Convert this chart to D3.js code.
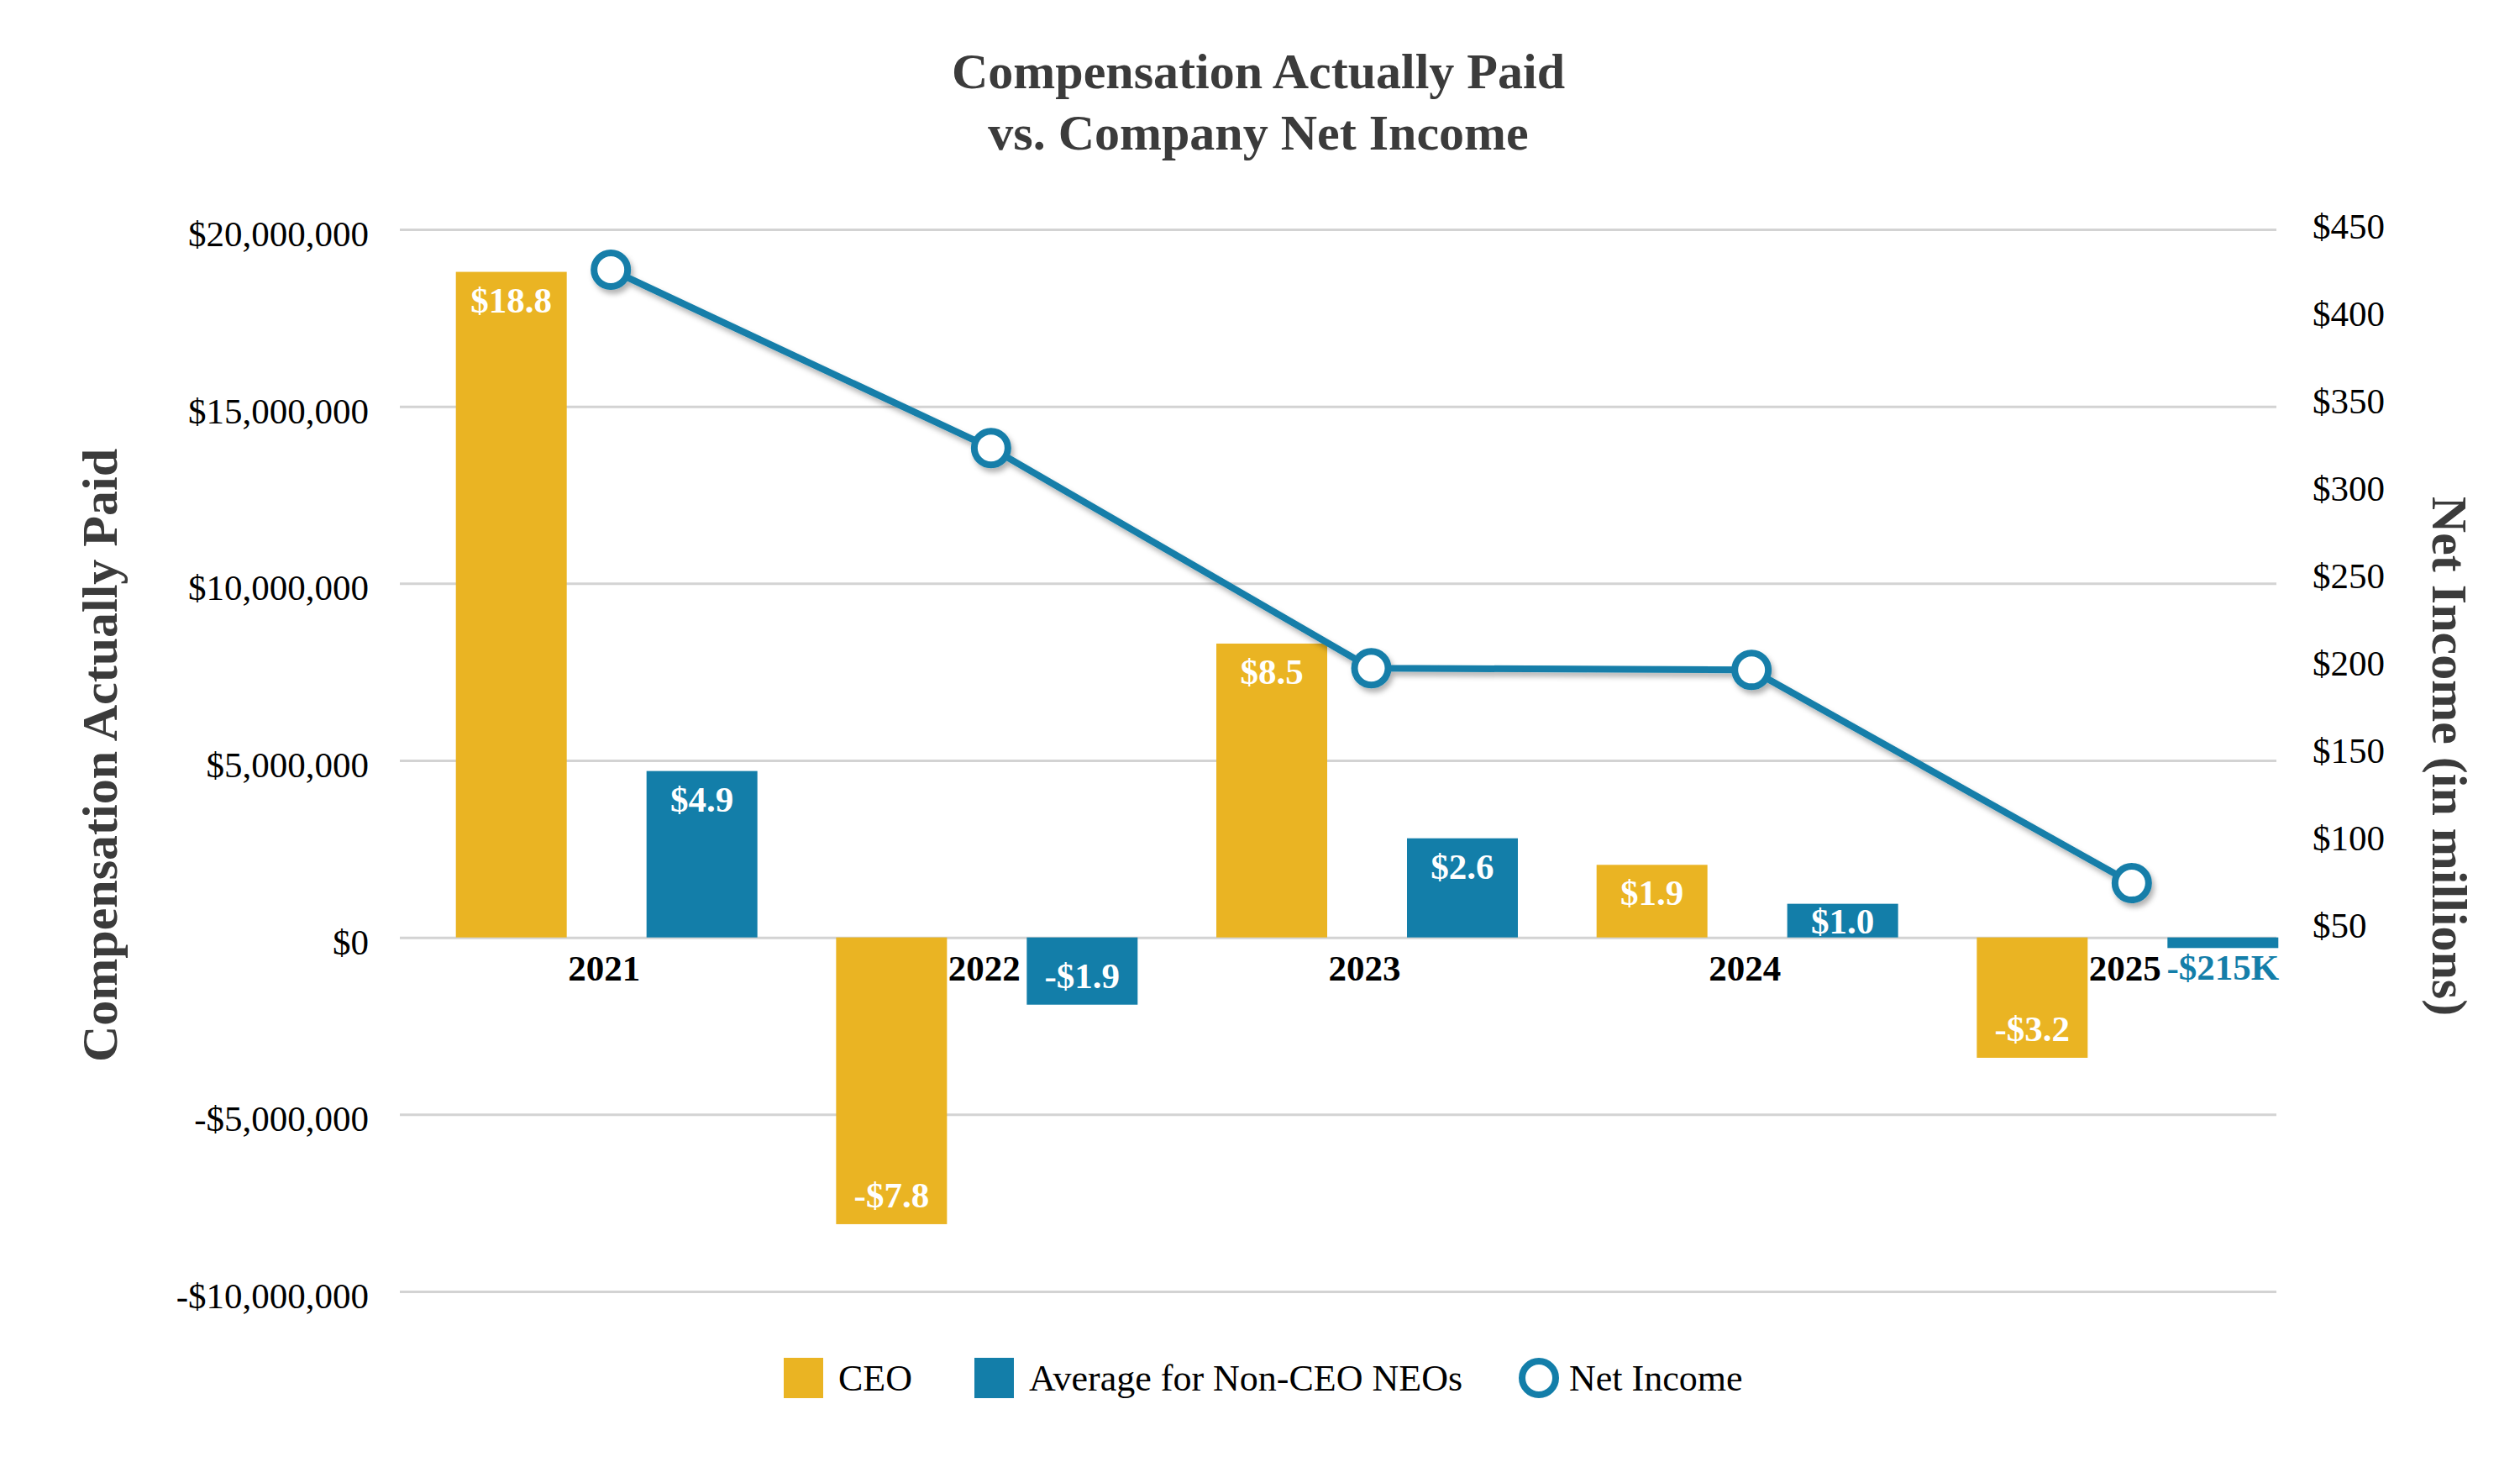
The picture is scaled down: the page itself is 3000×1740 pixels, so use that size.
<!DOCTYPE html>
<html>
<head>
<meta charset="utf-8">
<script src="https://cdn.jsdelivr.net/npm/d3@7"></script>
<style>
  html, body { margin: 0; padding: 0; background: #fff; }
  text { font-family: "Liberation Serif", "Times New Roman", serif; }
</style>
</head>
<body>
<svg id="svg"></svg>
<script>
const width = 3000;
const height = 1740;

// data (compensation in $ millions as drawn, net income in $ millions)
const years = ["2021", "2022", "2023", "2024", "2025"];
const ceoPaid = [18.8, -8.1, 8.3, 2.05, -3.4];
const neoPaid = [4.7, -1.9, 2.8, 0.95, -0.3];
const ceoLabels = ["$18.8", "-$7.8", "$8.5", "$1.9", "-$3.2"];
const neoLabels = ["$4.9", "-$1.9", "$2.6", "$1.0", "-$215K"];
const netIncome = [425, 323, 197, 196, 74];
const leftTicks = [-10000000, -5000000, 0, 5000000, 10000000, 15000000, 20000000];
const rightTicks = [50, 100, 150, 200, 250, 300, 350, 400, 450];
const seriesNames = ["CEO", "Average for Non-CEO NEOs", "Net Income"];

const gold = "#EAB423", blue = "#137EA9";

// plot frame
const plotLeft = 476, plotRight = 2710, plotTop = 273, plotBottom = 1537;

const locale = d3.formatLocale({decimal: ".", thousands: ",", grouping: [3], currency: ["$", ""], minus: "-"});
const fmtMoney = locale.format("$,.0f");

const svg = d3.select("#svg")
    .attr("width", width)
    .attr("height", height);

const defs = svg.append("defs");
defs.append("filter")
    .attr("id", "shadow")
    .attr("x", "-10%").attr("y", "-10%")
    .attr("width", "120%").attr("height", "130%")
    .append("feDropShadow")
    .attr("dx", 3).attr("dy", 5)
    .attr("stdDeviation", 3)
    .attr("flood-color", "#000")
    .attr("flood-opacity", 0.3);

// scales
const x0 = d3.scaleBand()
    .domain(years)
    .range([449, 2806])
    .padding(0.207);

const x1 = d3.scaleBand()
    .domain(["ceo", "neo"])
    .range([0, x0.bandwidth()])
    .paddingInner(0.4185)
    .paddingOuter(0);

const y = d3.scaleLinear()
    .domain([-10000000, 20000000])
    .range([plotBottom, plotTop]);

const yR = d3.scaleLinear()
    .domain([50, 450])
    .range([1101, 269]);

// title
const title = svg.append("text")
    .attr("x", 1498)
    .attr("text-anchor", "middle")
    .attr("font-size", 60)
    .attr("font-weight", "bold")
    .attr("fill", "#3b3b3b");
title.append("tspan").attr("x", 1498).attr("y", 105).text("Compensation Actually Paid");
title.append("tspan").attr("x", 1498).attr("y", 178).text("vs. Company Net Income");

// left axis with gridlines
const yAxis = svg.append("g")
    .attr("transform", `translate(${plotLeft},0)`)
    .call(d3.axisLeft(y)
        .tickValues(leftTicks)
        .tickSize(-(plotRight - plotLeft))
        .tickPadding(37)
        .tickFormat(fmtMoney));
yAxis.select(".domain").remove();
yAxis.selectAll(".tick line")
    .attr("stroke", "#d3d3d3")
    .attr("stroke-width", 3);
yAxis.selectAll(".tick text")
    .attr("font-size", 43)
    .attr("fill", "#000")
    .attr("dy", "0.45em");

// right axis
const yAxisR = svg.append("g")
    .attr("transform", `translate(${plotRight},0)`)
    .call(d3.axisRight(yR)
        .tickValues(rightTicks)
        .tickSize(0)
        .tickPadding(43)
        .tickFormat(d => "$" + d));
yAxisR.select(".domain").remove();
yAxisR.selectAll(".tick text")
    .attr("font-size", 43)
    .attr("fill", "#000")
    .attr("dy", "0.33em");

// axis titles
svg.append("text")
    .attr("transform", "translate(139,899) rotate(-90)")
    .attr("text-anchor", "middle")
    .attr("font-size", 60)
    .attr("font-weight", "bold")
    .attr("fill", "#3b3b3b")
    .text("Compensation Actually Paid");

svg.append("text")
    .attr("transform", "translate(2896,900) rotate(90)")
    .attr("text-anchor", "middle")
    .attr("font-size", 60)
    .attr("font-weight", "bold")
    .attr("fill", "#3b3b3b")
    .text("Net Income (in millions)");

// bars
const rows = years.map((yr, i) => ({
    year: yr,
    bars: [
        {key: "ceo", value: ceoPaid[i] * 1e6, label: ceoLabels[i], color: gold},
        {key: "neo", value: neoPaid[i] * 1e6, label: neoLabels[i], color: blue}
    ]
}));

const zero = y(0);

const groups = svg.append("g")
    .selectAll("g")
    .data(rows)
    .join("g")
    .attr("transform", d => `translate(${x0(d.year)},0)`);

groups.selectAll("rect")
    .data(d => d.bars)
    .join("rect")
    .attr("x", d => x1(d.key))
    .attr("width", x1.bandwidth())
    .attr("y", d => Math.min(y(d.value), zero))
    .attr("height", d => Math.abs(y(d.value) - zero))
    .attr("fill", d => d.color);

// category labels
svg.append("g")
    .selectAll("text")
    .data(years)
    .join("text")
    .attr("x", d => x0(d) + x0.bandwidth() / 2 - 3)
    .attr("y", zero + 51)
    .attr("text-anchor", "middle")
    .attr("font-size", 43)
    .attr("font-weight", "bold")
    .attr("fill", "#000")
    .text(d => d);

// data labels
groups.selectAll("text.val")
    .data(d => d.bars)
    .join("text")
    .attr("class", "val")
    .attr("x", d => x1(d.key) + x1.bandwidth() / 2)
    .attr("y", d => {
        const v = y(d.value);
        if (d.value >= 0) return Math.min(v + 48, zero - 5);
        if (v - zero < 30) return v + 38;
        return v - 20;
    })
    .attr("text-anchor", "middle")
    .attr("font-size", 43)
    .attr("font-weight", "bold")
    .attr("fill", d => (d.value < 0 && y(d.value) - zero < 30) ? d.color : "#fff")
    .text(d => d.label);

// net income line
const pts = years.map((yr, i) => ({year: yr, value: netIncome[i]}));
const lineG = svg.append("g").attr("filter", "url(#shadow)");

lineG.append("path")
    .datum(pts)
    .attr("fill", "none")
    .attr("stroke", blue)
    .attr("stroke-width", 8)
    .attr("stroke-linejoin", "round")
    .attr("d", d3.line()
        .x(d => x0(d.year) + x0.bandwidth() / 2 + 5)
        .y(d => yR(d.value)));

lineG.selectAll("circle")
    .data(pts)
    .join("circle")
    .attr("cx", d => x0(d.year) + x0.bandwidth() / 2 + 5)
    .attr("cy", d => yR(d.value))
    .attr("r", 20)
    .attr("fill", "#fff")
    .attr("stroke", blue)
    .attr("stroke-width", 8);

// legend
const legendX = [933, 1160, 1808];
const legendY = 1640;
const legend = svg.append("g")
    .selectAll("g")
    .data(seriesNames)
    .join("g")
    .attr("transform", (d, i) => `translate(${legendX[i]},${legendY})`);

legend.filter((d, i) => i < 2)
    .append("rect")
    .attr("x", 0)
    .attr("y", -24)
    .attr("width", 47)
    .attr("height", 48)
    .attr("fill", (d, i) => i === 0 ? gold : blue);

legend.filter((d, i) => i === 2)
    .append("circle")
    .attr("cx", 24)
    .attr("cy", 0)
    .attr("r", 20)
    .attr("fill", "#fff")
    .attr("stroke", blue)
    .attr("stroke-width", 8);

legend.append("text")
    .attr("x", (d, i) => i === 2 ? 60 : 65)
    .attr("y", 0)
    .attr("dy", "0.35em")
    .attr("font-size", 44)
    .attr("fill", "#000")
    .text(d => d);
</script>
</body>
</html>
